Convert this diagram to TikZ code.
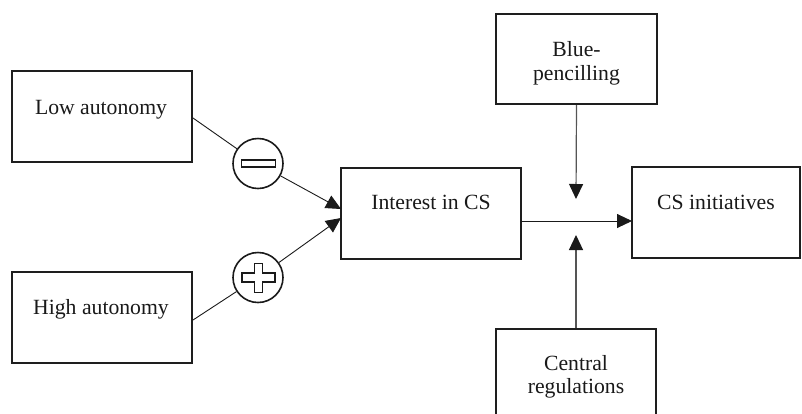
\documentclass[tikz,border=0pt]{standalone}
\usepackage{fontspec}
\setmainfont{Liberation Serif}
\usetikzlibrary{arrows.meta}
\definecolor{boxline}{HTML}{1E1E1E}
\definecolor{conline}{HTML}{1A1A1A}
\definecolor{vline}{HTML}{555555}
\tikzset{
  box/.style={draw=boxline, line width=2pt, rectangle, inner sep=0pt},
  txt/.style={anchor=base, inner sep=0pt, font=\fontsize{21.7}{24}\selectfont, text=black!90},
  sign/.style={draw=conline, line width=1.6pt, circle, minimum size=50pt, inner sep=0pt},
  con/.style={draw=conline, line width=0.9pt},
  vcon/.style={draw=vline, line width=1.2pt},
  tip/.style={-{Triangle[length=15pt,width=14pt,color=conline]}},
}
\begin{document}
\begin{tikzpicture}[x=1pt,y=-1pt]
\useasboundingbox (0,0) rectangle (802,413);
\clip (0,0) rectangle (802,413);
% boxes
\node[box, minimum width=180pt, minimum height=91pt] (low) at (102,116.5) {};
\node[box, minimum width=180pt, minimum height=91pt] (high) at (102,317.5) {};
\node[box, minimum width=180pt, minimum height=91pt] (interest) at (431,213.5) {};
\node[box, minimum width=168pt, minimum height=91pt] (csi) at (716,212.5) {};
\node[box, minimum width=161pt, minimum height=90pt] (blue) at (576.5,59) {};
\node[box, minimum width=160pt, minimum height=91pt] (central) at (576,374.5) {};
% texts
\node[txt] (tlow) at (101,114) {Low autonomy};
\node[txt] (thigh) at (101,314) {High autonomy};
\node[txt] (tint) at (431,209) {Interest in CS};
\node[txt] (tcsi) at (716,209) {CS initiatives};
\node[txt] (tblue1) at (576.5,56) {Blue-};
\node[txt] (tblue2) at (576.5,80) {pencilling};
\node[txt] (tcen1) at (576,370) {Central};
\node[txt] (tcen2) at (576,393) {regulations};
% sign circles
\node[sign] (minus) at (258,163.5) {};
\node[sign] (plus) at (258,277.5) {};
\draw[conline, line width=1.6pt] (241.5,160) rectangle (275.5,167);
\draw[conline, line width=1.6pt]
  (254.5,263.5) -- (262.5,263.5) -- (262.5,273) -- (275,273) -- (275,282)
  -- (262.5,282) -- (262.5,292.5) -- (254.5,292.5) -- (254.5,282) -- (242,282)
  -- (242,273) -- (254.5,273) -- cycle;
% connectors
\coordinate (inA) at (341,209);
\coordinate (inB) at (341,218);
\coordinate (mainA) at (521,221);
\coordinate (mainB) at (632,221);
\coordinate (downtip) at (576,199);
\coordinate (uptip) at (576,235);
\draw[con] (low.east |- 0,118) -- (minus);
\draw[con] (high.east |- 0,320) -- (plus);
\draw[con, tip] (minus) -- (inA);
\draw[con, tip] (plus) -- (inB);
\draw[con, tip] (mainA) -- (mainB);
\draw[vcon, tip] (blue.south) -- (downtip);
\draw[vcon, tip] (central.north) -- (uptip);
\end{tikzpicture}
\end{document}
